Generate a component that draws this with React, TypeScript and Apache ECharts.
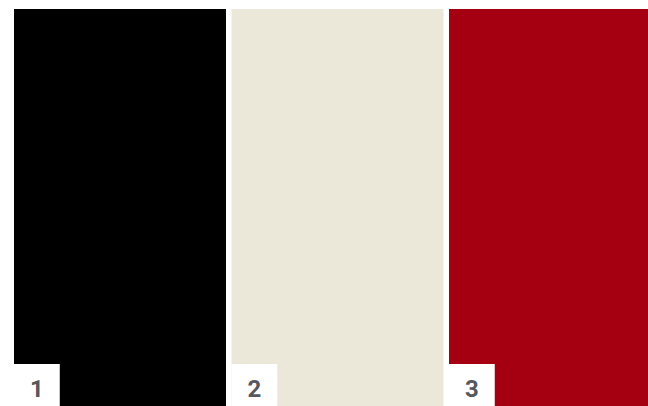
import React, { useEffect, useRef } from "react";
import * as echarts from "echarts";

const categories: string[] = ["1", "2", "3"];
const values: number[] = [1, 1, 1];
const colors: string[] = ["#000000", "#ebe8da", "#a40012"];

export default function App() {
  const ref = useRef<HTMLDivElement>(null);
  useEffect(() => {
    if (!ref.current) return;
    const chart = echarts.init(ref.current, undefined, { renderer: "svg" });
    chart.setOption({
      animation: false,
      backgroundColor: "#ffffff",
      grid: { left: 14, right: 0, top: 9, bottom: 0, containLabel: false },
      xAxis: {
        type: "value",
        min: -0.4874,
        max: 2.4276,
        show: false,
      },
      yAxis: { type: "value", min: 0, max: 1, show: false },
      series: [
        {
          type: "bar",
          barWidth: 212,
          clip: true,
          data: values.map((v, i) => ({
            value: [i, v],
            itemStyle: { color: colors[i] },
          })),
          label: {
            show: true,
            position: "insideBottomLeft",
            distance: 0,
            formatter: (p: any) => categories[p.dataIndex],
            backgroundColor: "#ffffff",
            color: "#55585d",
            fontFamily: "Roboto",
            fontWeight: "bold",
            fontSize: 24,
            lineHeight: 28,
            padding: [11, 16, 3, 16],
          },
        },
      ],
    });
    return () => chart.dispose();
  }, []);
  return (
    <div
      ref={ref}
      style={{ position: "fixed", left: 0, top: 0, width: 648, height: 406 }}
    />
  );
}
